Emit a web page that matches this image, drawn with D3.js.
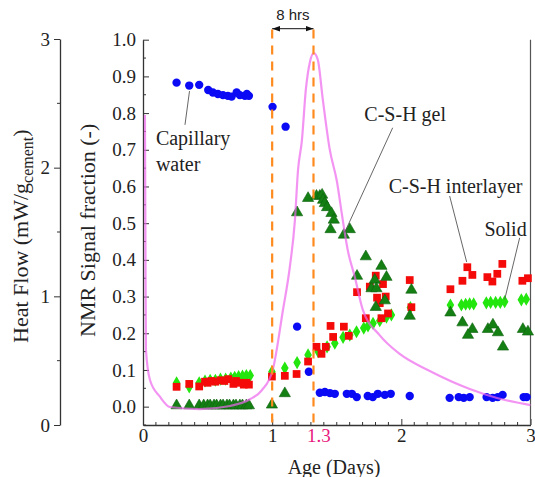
<!DOCTYPE html>
<html>
<head>
<meta charset="utf-8">
<script src="https://cdn.jsdelivr.net/npm/d3@7/dist/d3.min.js"></script>
<style>
body{margin:0;background:#fff;}
svg text{font-family:"Liberation Serif","Times New Roman",serif;}
</style>
</head>
<body>
<svg id="chart"></svg>
<script>
// age in days, NMR signal fraction
var capillaryWater = [
    [0.26,0.883],[0.358,0.875],[0.435,0.877],[0.505,0.863],[0.541,0.856],[0.58,0.852],
    [0.619,0.849],[0.657,0.847],[0.686,0.845],[0.725,0.856],[0.75,0.849],[0.789,0.847],
    [0.804,0.852],[0.82,0.847],[1.003,0.817],[1.104,0.763],[1.193,0.218],[1.284,0.095],
    [1.369,0.038],[1.408,0.04],[1.447,0.037],[1.485,0.035],[1.578,0.035],[1.617,0.035],
    [1.655,0.026],[1.74,0.029],[1.779,0.026],[1.818,0.035],[1.872,0.032],[1.918,0.035],
    [2.065,0.029],[2.374,0.024],[2.444,0.026],[2.483,0.024],[2.529,0.026],[2.66,0.026],
    [2.707,0.024],[2.746,0.026],[2.784,0.032],[2.947,0.026],[2.97,0.026]
]
var interlayer = [
    [0.26,0.054],[0.358,0.062],[0.435,0.055],[0.48,0.068],[0.5,0.065],[0.53,0.07],
    [0.56,0.068],[0.6,0.072],[0.63,0.07],[0.66,0.075],[0.7,0.062],[0.72,0.07],
    [0.75,0.065],[0.78,0.06],[0.8,0.065],[0.82,0.06],
    [0.998,0.082],[1.098,0.084],[1.189,0.089],[1.278,0.123],[1.343,0.163],[1.382,0.144],
    [1.415,0.163],[1.452,0.22],[1.472,0.19],[1.555,0.218],[1.593,0.193],[1.657,0.312],
    [1.725,0.241],[1.756,0.327],[1.802,0.357],[1.812,0.297],[1.833,0.282],[1.846,0.241],
    [1.858,0.334],[1.879,0.3],[1.897,0.254],[2.065,0.345],[2.078,0.271],
    [2.38,0.32],[2.473,0.343],[2.511,0.38],[2.55,0.359],[2.666,0.353],[2.705,0.341],
    [2.743,0.362],[2.782,0.389],[2.937,0.343],[2.98,0.35]
]
var solid = [
    [0.26,0.065],[0.358,0.054],[0.435,0.065],[0.48,0.07],[0.52,0.072],[0.56,0.072],
    [0.6,0.075],[0.64,0.075],[0.68,0.078],[0.71,0.08],[0.74,0.082],[0.77,0.083],
    [0.8,0.085],[0.83,0.085],
    [0.998,0.095],[1.098,0.105],[1.193,0.12],[1.278,0.141],[1.356,0.15],[1.425,0.163],
    [1.485,0.173],[1.549,0.189],[1.601,0.195],[1.653,0.204],[1.709,0.214],[1.742,0.22],
    [1.781,0.227],[1.833,0.234],[1.885,0.244],[1.923,0.25],[2.07,0.27],
    [2.38,0.277],[2.465,0.277],[2.498,0.279],[2.529,0.28],[2.56,0.28],[2.658,0.283],
    [2.691,0.284],[2.73,0.284],[2.766,0.284],[2.8,0.286],[2.929,0.291],[2.967,0.293]
]
var gel = [
    [0.26,0.003],[0.358,0.003],[0.435,0.003],[0.47,0.003],[0.5,0.003],[0.52,0.003],
    [0.55,0.003],[0.57,0.003],[0.6,0.003],[0.62,0.003],[0.65,0.003],[0.67,0.003],
    [0.7,0.003],[0.72,0.003],[0.75,0.003],[0.77,0.003],[0.8,0.003],[0.82,0.003],
    [0.998,0.005],[1.098,0.036],[1.193,0.529],[1.278,0.568],[1.343,0.574],[1.369,0.574],
    [1.387,0.577],[1.394,0.563],[1.408,0.554],[1.425,0.543],[1.459,0.527],[1.477,0.509],
    [1.452,0.483],[1.555,0.468],[1.601,0.483],[1.657,0.356],[1.725,0.409],[1.846,0.383],
    [1.794,0.345],[1.769,0.322],[1.807,0.322],[1.885,0.353],[1.872,0.289],[1.802,0.271],
    [2.078,0.318],[2.065,0.247],
    [2.38,0.256],[2.473,0.229],[2.55,0.211],[2.516,0.195],[2.67,0.211],[2.709,0.223],
    [2.748,0.202],[2.787,0.163],[2.941,0.211],[2.98,0.204]
]
// age in days, heat flow in mW/g cement
var heatAge  = [0.015,0.019,0.023,0.054,0.131,0.209,0.44,0.673,0.828,0.92,1.005,1.083,1.137,1.176,1.2,1.23,1.261,1.292,1.322,1.353,1.392,1.446,1.5,1.547,1.585,1.64,1.70,1.83,1.99,2.22,2.53,2.74,3.0]
var heatFlow = [2.41,1.36,0.58,0.35,0.22,0.14,0.124,0.148,0.2,0.27,0.43,0.89,1.23,1.59,1.98,2.21,2.61,2.82,2.89,2.84,2.53,2.14,1.9,1.59,1.36,1.15,0.9,0.7,0.55,0.42,0.28,0.21,0.155]

var markerDays = [1, 1.32]
var xTicks = [0, 1, 2, 3]
var yTicks = [0,0.1,0.2,0.3,0.4,0.5,0.6,0.7,0.8,0.9,1.0]
var heatTicks = [0, 1, 2, 3]

var serif = "Liberation Serif, Times New Roman, serif"
var width = 535, height = 477;
var svg = d3.select("#chart").attr("width", width).attr("height", height)

var xScale = d3.scaleLinear().domain([0,3]).range([143,530.5])
var yScale = d3.scaleLinear().domain([-0.05,1.0]).range([425,39.7])
var hScale = d3.scaleLinear().domain([0,3]).range([425,39])

// heat flow axis (far left)
var hAxis = svg.append("g").attr("transform","translate(60,0)")
    .call(d3.axisLeft(hScale).tickValues(heatTicks).tickSize(6).tickSizeOuter(0).tickPadding(4).tickFormat(d3.format("d")))
hAxis.append("g").selectAll("line").data([0.5,1.5,2.5]).enter().append("line")
    .attr("x1",0).attr("x2",-3).attr("y1",function(d){return hScale(d)}).attr("y2",function(d){return hScale(d)})
    .attr("stroke","#333")

// NMR axis
var yAxis = svg.append("g").attr("transform","translate(143,0)")
    .call(d3.axisLeft(yScale).tickValues(yTicks).tickSize(-6).tickSizeOuter(0).tickPadding(7).tickFormat(d3.format(".1f")))
yAxis.append("g").selectAll("line").data(d3.range(-0.05,1.0,0.1)).enter().append("line")
    .attr("x1",0).attr("x2",3).attr("y1",function(d){return yScale(d)}).attr("y2",function(d){return yScale(d)})
    .attr("stroke","#333")

// age axis
var xAxis = svg.append("g").attr("transform","translate(0,425)")
    .call(d3.axisBottom(xScale).tickValues(xTicks).tickSize(-6).tickSizeOuter(0).tickPadding(3).tickFormat(d3.format("d")))
xAxis.append("g").selectAll("line").data(d3.range(1,30).filter(function(i){return i%10!=0}).map(function(i){return i/10})).enter().append("line")
    .attr("x1",function(d){return xScale(d)}).attr("x2",function(d){return xScale(d)})
    .attr("y1",0).attr("y2",-3).attr("stroke","#333")

svg.selectAll("g").attr("font-family", serif).attr("font-size", 19)
svg.selectAll(".domain").attr("stroke","#333").attr("stroke-width",1.3)
svg.selectAll(".tick line").attr("stroke","#333")
svg.selectAll(".tick text").attr("fill","#222")

xAxis.append("text").attr("x",xScale(1.3)+8).attr("y",3).attr("dy","0.71em")
    .attr("text-anchor","middle").style("fill","#e8197d").text("1.3")

// right frame
svg.append("line").attr("x1",xScale(3)).attr("x2",xScale(3)).attr("y1",yScale(1.0)).attr("y2",yScale(-0.05))
    .attr("stroke","#555").attr("stroke-width",1.2)

// series
function drawSeries(data, symbol, size, color, stroke){
    svg.append("g").selectAll("path").data(data).enter().append("path")
        .attr("d", d3.symbol().type(symbol).size(size))
        .attr("transform", function(d){return "translate("+xScale(d[0])+","+yScale(d[1])+")"})
        .attr("fill", color)
        .attr("stroke", stroke || "none")
        .attr("stroke-width", 0.6)
}
drawSeries(capillaryWater, d3.symbolCircle, 55, "#0a0af5")
drawSeries(solid, d3.symbolDiamond, 50, "#22e60d")
drawSeries(interlayer, d3.symbolSquare, 60, "#f50a0a")
drawSeries(gel, d3.symbolTriangle, 55, "#148014", "#0d600d")

// heat flow curve
var heatLine = d3.line()
    .x(function(d,i){return xScale(heatAge[i])})
    .y(function(d){return hScale(d)})
    .curve(d3.curveMonotoneX)
svg.append("path").datum(heatFlow).attr("d", heatLine)
    .attr("fill","none").attr("stroke","#ee66ee").attr("stroke-opacity",0.7).attr("stroke-width",2.2)

// dashed time markers
svg.append("g").selectAll("line").data(markerDays).enter().append("line")
    .attr("x1",function(d){return xScale(d)}).attr("x2",function(d){return xScale(d)})
    .attr("y1",yScale(1.028)).attr("y2",yScale(-0.05))
    .attr("stroke","#ff8a1e").attr("stroke-width",2.2).attr("stroke-dasharray","9,7")

var defs = svg.append("defs")
defs.append("marker").attr("id","arr").attr("viewBox","0 0 10 10").attr("refX",10).attr("refY",5)
    .attr("markerWidth",8).attr("markerHeight",8).attr("orient","auto-start-reverse")
    .append("path").attr("d","M0,1.5 L10,5 L0,8.5 Z").attr("fill","#111")
svg.append("line").attr("x1",xScale(markerDays[0])).attr("x2",xScale(markerDays[1]))
    .attr("y1",yScale(1.03)).attr("y2",yScale(1.03))
    .attr("stroke","#111").attr("stroke-width",1)
    .attr("marker-start","url(#arr)").attr("marker-end","url(#arr)")
svg.append("text").attr("x",xScale((markerDays[0]+markerDays[1])/2)).attr("y",yScale(1.055))
    .attr("text-anchor","middle").style("font-family","Liberation Sans, Arial, sans-serif")
    .style("font-size","15px").style("fill","#222").text("8 hrs")

// annotations
function leader(a, b){
    svg.append("line").attr("x1",xScale(a[0])).attr("y1",yScale(a[1]))
        .attr("x2",xScale(b[0])).attr("y2",yScale(b[1]))
        .attr("stroke","#555").attr("stroke-width",0.9)
}
function label(t, pos, anchor){
    svg.append("text").attr("x",xScale(pos[0])).attr("y",yScale(pos[1]))
        .attr("text-anchor",anchor || "start").style("font-family",serif)
        .style("font-size","20px").style("fill","#222").text(t)
}
leader([0.325,0.768],[0.36,0.86])
label("Capillary",[0.1,0.712])
label("water",[0.1,0.642])
leader([1.933,0.76],[1.562,0.475])
label("C-S-H gel",[2.03,0.778],"middle")
leader([2.374,0.574],[2.506,0.394])
label("C-S-H interlayer",[2.42,0.582],"middle")
leader([2.916,0.46],[2.8,0.292])
label("Solid",[2.807,0.465],"middle")

// axis titles
svg.append("text").attr("transform","translate(334,474)").attr("text-anchor","middle")
    .style("font-family",serif).style("font-size","20px").style("fill","#222").text("Age (Days)")
svg.append("text").attr("transform","translate(95,337) rotate(-90)").attr("text-anchor","start")
    .style("font-family",serif).style("font-size","22px").style("fill","#222").text("NMR Signal fraction (-)")
var ht = svg.append("text").attr("transform","translate(28,343) rotate(-90)").attr("text-anchor","start")
    .style("font-family",serif).style("font-size","22px").style("fill","#222")
ht.append("tspan").text("Heat Flow (mW/g")
ht.append("tspan").attr("dy",5).style("font-size","16px").text("cement")
ht.append("tspan").attr("dy",-5).text(")")
</script>
</body>
</html>
